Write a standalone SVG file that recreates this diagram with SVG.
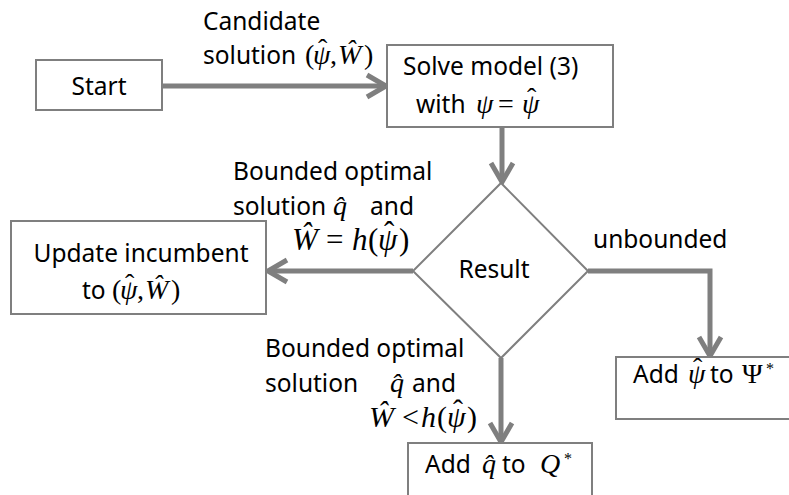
<svg xmlns="http://www.w3.org/2000/svg" width="789" height="495" viewBox="0 0 789 495">
<style>
.box{fill:#fff;stroke:#7f7f7f;stroke-width:2}
.t{font-family:"Noto Sans","Open Sans",sans-serif;font-size:24.5px;fill:#000}
.m{font-family:"Liberation Serif","Times New Roman",serif;font-size:28px;fill:#000}
.b{font-size:31px}
.b2{font-size:30px}
.i{font-style:italic}
.c{stroke:#7f7f7f;stroke-width:5;fill:none}
</style>
<defs>
<marker id="ah" viewBox="-22 -14 28 28" refX="0" refY="0" markerWidth="28" markerHeight="28" markerUnits="userSpaceOnUse" orient="auto">
<path d="M-18,-11 L1,0 L-18,11" fill="none" stroke="#7f7f7f" stroke-width="5"/>
</marker>
</defs>
<rect width="789" height="495" fill="#fff"/>
<g id="connectors">
<line class="c" x1="162" y1="86" x2="385" y2="86" marker-end="url(#ah)"/>
<line class="c" x1="502" y1="127" x2="502" y2="181" marker-end="url(#ah)"/>
<line class="c" x1="413" y1="271" x2="269" y2="271" marker-end="url(#ah)"/>
<polyline class="c" points="588,271 710,271 710,355" marker-end="url(#ah)"/>
<line class="c" x1="501" y1="358" x2="501" y2="441" marker-end="url(#ah)"/>
<text class="t" x="203" y="30">Candidate</text>
<text class="t" x="203" y="64">solution</text>
<text class="m" y="64"><tspan x="305">(</tspan><tspan class="i" x="313">ψ</tspan><tspan x="318" y="58">ˆ</tspan><tspan x="330" y="64">,</tspan><tspan class="i" x="338">Ŵ</tspan><tspan x="364">)</tspan></text>
<text class="t" x="233" y="180">Bounded optimal</text>
<text class="t" x="233" y="215">solution</text>
<text class="m i" x="333" y="215">q̂</text>
<text class="t" x="370" y="215">and</text>
<text class="m b" y="250"><tspan class="i" x="292">Ŵ</tspan><tspan x="326">=</tspan><tspan class="i" x="352">h</tspan><tspan x="368">(</tspan><tspan class="i" x="378">ψ</tspan><tspan x="384" y="243">ˆ</tspan><tspan x="399" y="250">)</tspan></text>
<text class="t" x="593" y="248">unbounded</text>
<text class="t" x="265" y="357">Bounded optimal</text>
<text class="t" x="265" y="392">solution</text>
<text class="m i" x="390" y="392">q̂</text>
<text class="t" x="412" y="392">and</text>
<text class="m b2" y="427"><tspan class="i" x="369">Ŵ</tspan><tspan x="402">&lt;</tspan><tspan class="i" x="421">h</tspan><tspan x="437">(</tspan><tspan class="i" x="447">ψ</tspan><tspan x="453" y="420">ˆ</tspan><tspan x="467" y="427">)</tspan></text>
</g>
<g id="start">
<rect class="box" x="36" y="60" width="126" height="50"/>
<text class="t" x="99" y="95" text-anchor="middle">Start</text>
</g>
<g id="solve">
<rect class="box" x="387" y="45" width="226" height="82"/>
<text class="t" x="403" y="75">Solve model (3)</text>
<text class="t" x="416" y="113">with</text>
<text class="m" y="113"><tspan class="i" x="476">ψ</tspan><tspan x="498">=</tspan><tspan class="i" x="522">ψ</tspan><tspan x="527" y="107">ˆ</tspan></text>
</g>
<g id="result">
<polygon points="501,183 588,271 501,358 413,271" fill="#fff" stroke="#7f7f7f" stroke-width="2"/>
<text class="t" x="494" y="278" text-anchor="middle">Result</text>
</g>
<g id="update">
<rect class="box" x="11" y="221" width="255" height="93"/>
<text class="t" x="141" y="262" text-anchor="middle">Update incumbent</text>
<text class="t" x="82" y="299">to</text>
<text class="m" y="299"><tspan x="112">(</tspan><tspan class="i" x="120">ψ</tspan><tspan x="125" y="293">ˆ</tspan><tspan x="137" y="299">,</tspan><tspan class="i" x="145">Ŵ</tspan><tspan x="171">)</tspan></text>
</g>
<g id="addpsi">
<rect class="box" x="616" y="357" width="200" height="62"/>
<text class="t" x="633" y="383">Add</text>
<text class="m" y="383"><tspan class="i" x="688">ψ</tspan><tspan x="693" y="377">ˆ</tspan></text>
<text class="t" x="710" y="383">to</text>
<text class="m" y="383"><tspan x="742">Ψ</tspan><tspan x="766" y="374" font-size="16">*</tspan></text>
</g>
<g id="addq">
<rect class="box" x="408" y="443" width="184" height="70"/>
<text class="t" x="425" y="473">Add</text>
<text class="m i" x="482" y="473">q̂</text>
<text class="t" x="502" y="473">to</text>
<text class="m" y="473"><tspan class="i" x="540">Q</tspan><tspan x="564" y="464" font-size="16">*</tspan></text>
</g>
</svg>
